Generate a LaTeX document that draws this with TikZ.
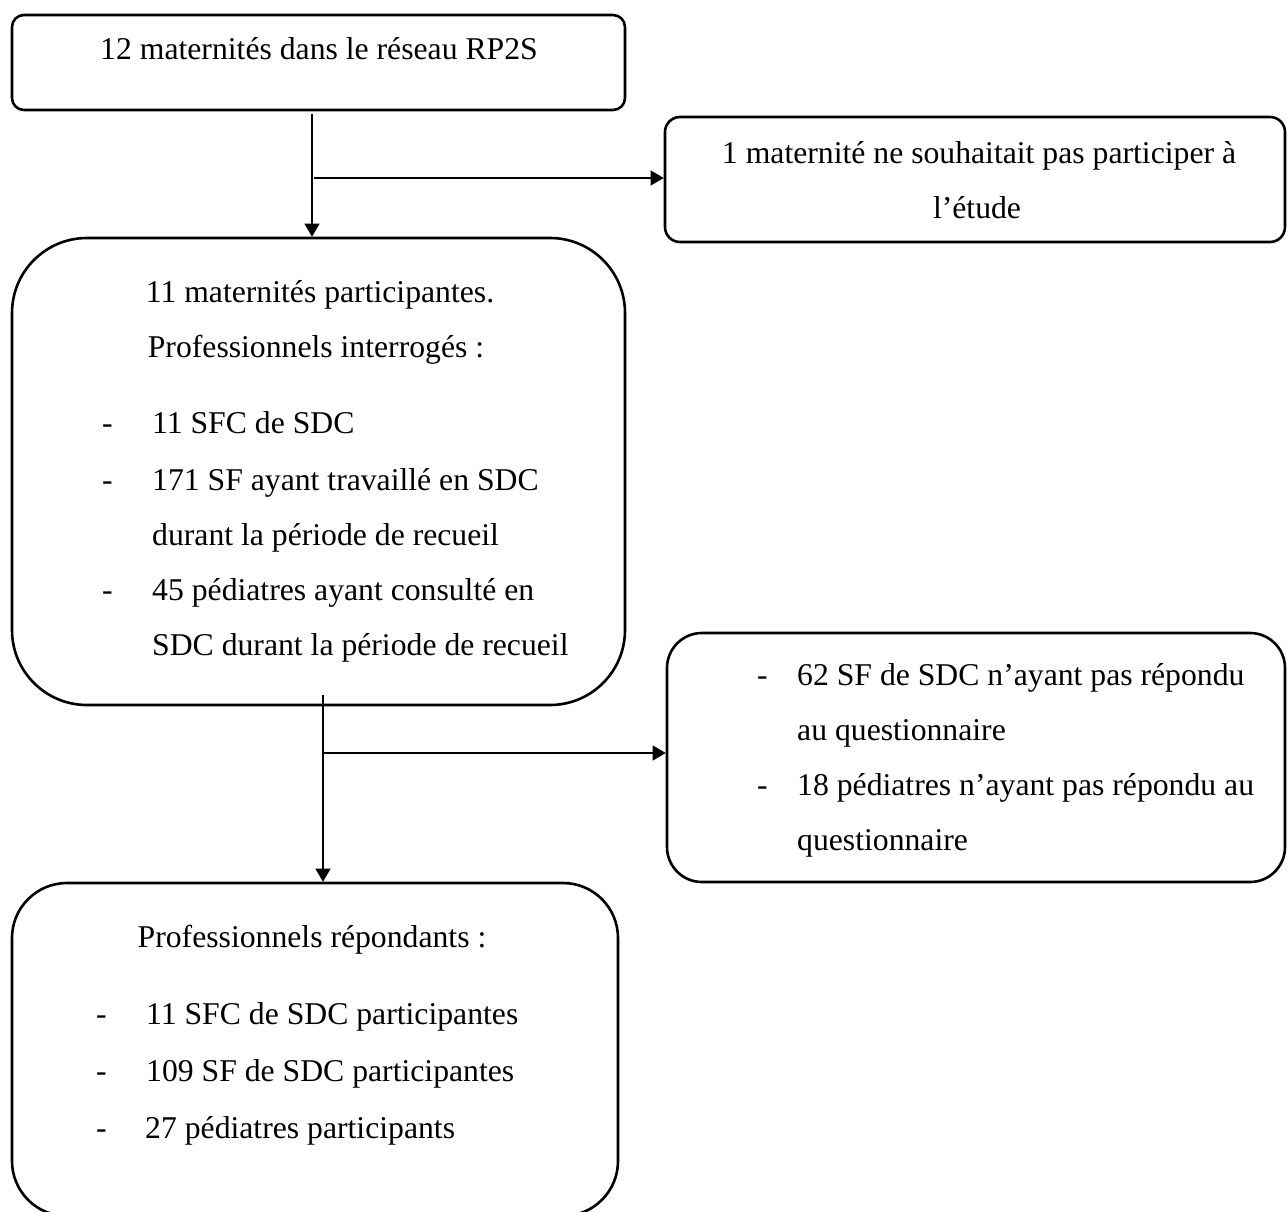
\documentclass[tikz,border=0pt]{standalone}
\usepackage{fontspec}
\setmainfont{Liberation Serif}
\usetikzlibrary{arrows.meta}
\begin{document}
\begin{tikzpicture}[x=1pt,y=-1pt,
  box/.style={draw=black, line width=2.6pt, rectangle, inner sep=0pt},
  conn/.style={draw=black, line width=1.2pt, -{Triangle[length=13pt,width=15pt]}},
  plain/.style={draw=black, line width=1.2pt},
  txt/.style={inner sep=0pt, font=\fontsize{31.7}{40}\selectfont},
  tl/.style={txt, anchor=base west},
  tc/.style={txt, anchor=base}]
\useasboundingbox (0,0) rectangle (1287,1212);
\clip (0,0) rectangle (1287,1212);

% boxes
\node[box, rounded corners=12pt, minimum width=613pt, minimum height=95pt] (b1) at (318.5,62.5) {};
\node[box, rounded corners=15pt, minimum width=620pt, minimum height=125pt] (b3) at (975,179.5) {};
\node[box, rounded corners=75pt, minimum width=613pt, minimum height=467pt] (b2) at (318.5,471.5) {};
\node[box, rounded corners=35pt, minimum width=618pt, minimum height=249pt] (b4) at (976,757.5) {};
\node[box, rounded corners=55pt, minimum width=606pt, minimum height=333pt] (b5) at (315,1049.5) {};

% texts box 1
\node[tc] (t1) at (319,60) {12 maternités dans le réseau RP2S};
% box 3
\node[tc] (t3a) at (979,163) {1 maternité ne souhaitait pas participer à};
\node[tc] (t3b) at (977,218) {l’étude};
% box 2
\node[tc] (t2a) at (320,302) {11 maternités participantes.};
\node[tc] (t2b) at (316,357) {Professionnels interrogés :};
\node[tl] (d2a) at (102,433) {-};
\node[tl] (t2c) at (152,433) {11 SFC de SDC};
\node[tl] (d2b) at (102,490) {-};
\node[tl] (t2d) at (152,490) {171 SF ayant travaillé en SDC};
\node[tl] (t2e) at (152,545) {durant la période de recueil};
\node[tl] (d2c) at (102,600) {-};
\node[tl] (t2f) at (152,600) {45 pédiatres ayant consulté en};
\node[tl] (t2g) at (152,655) {SDC durant la période de recueil};
% box 4
\node[tl] (d4a) at (757,685) {-};
\node[tl] (t4a) at (797,685) {62 SF de SDC n’ayant pas répondu};
\node[tl] (t4b) at (797,740) {au questionnaire};
\node[tl] (d4b) at (757,795) {-};
\node[tl] (t4c) at (797,795) {18 pédiatres n’ayant pas répondu au};
\node[tl] (t4d) at (797,850) {questionnaire};
% box 5
\node[tc] (t5a) at (312,947) {Professionnels répondants :};
\node[tl] (d5a) at (96,1024) {-};
\node[tl] (t5b) at (146,1024) {11 SFC de SDC participantes};
\node[tl] (d5b) at (96,1081) {-};
\node[tl] (t5c) at (146,1081) {109 SF de SDC participantes};
\node[tl] (d5c) at (96,1138) {-};
\node[tl] (t5d) at (145,1138) {27 pédiatres participants};

% connectors
\coordinate (a1s) at (312,114);
\coordinate (a1m) at (314,178);
\draw[conn] (a1s) -- (a1s |- b2.north);
\draw[conn] (a1m) -- (a1m -| b3.west);

\coordinate (a2s) at (323,695);
\coordinate (a2m) at (323,753);
\draw[conn] (a2s) -- (a2s |- b5.north);
\draw[conn] (a2m) -- (a2m -| b4.west);
\end{tikzpicture}
\end{document}
